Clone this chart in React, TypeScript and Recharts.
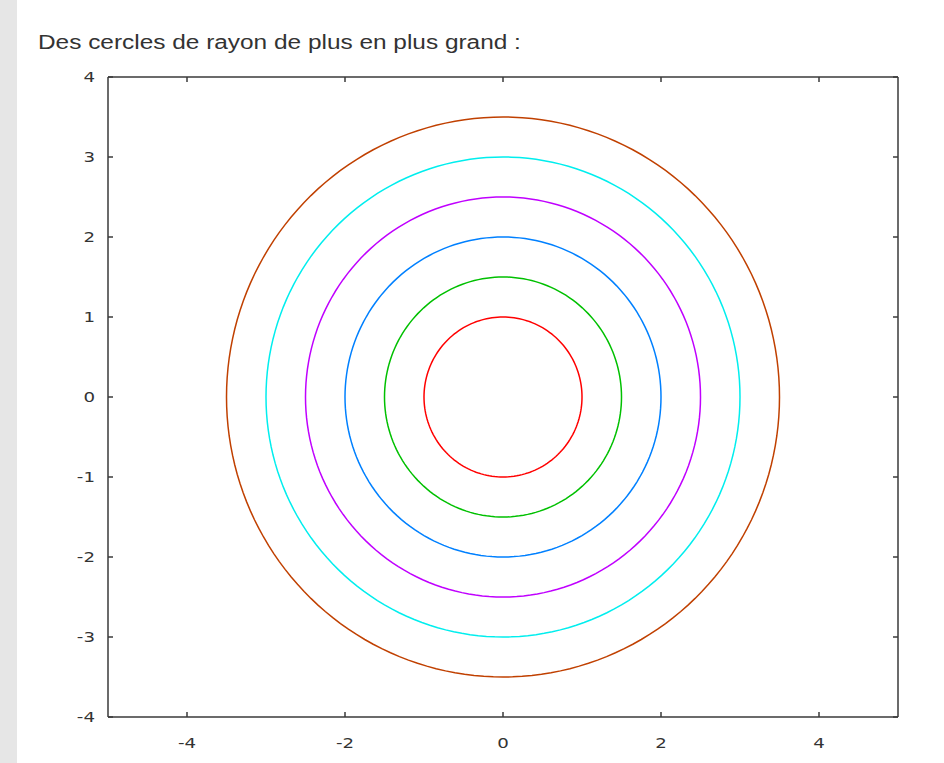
import React from 'react';
import { LineChart, Line, XAxis, YAxis } from 'recharts';

// Rayons des cercles (gnuplot, du plus petit au plus grand)
const radii = [1, 1.5, 2, 2.5, 3, 3.5];
const colors = ['#ff0000', '#00c000', '#0080ff', '#c000ff', '#00eeee', '#c04000'];
const xTicks = [-4, -2, 0, 2, 4];
const yTicks = [-4, -3, -2, -1, 0, 1, 2, 3, 4];
const STEPS = 180;

// each circle is traced as a closed parametric path of its radius
const circles = radii.map((r) =>
  Array.from({ length: STEPS + 1 }, (_, i) => {
    const t = (i / STEPS) * 2 * Math.PI;
    return { x: r * Math.cos(t), y: r * Math.sin(t) };
  })
);

const titleFont = '"Liberation Sans", Arial, sans-serif';
const tickFont = '"DejaVu Sans", sans-serif';
const frame = '#3a3a3a';

const BottomTick = (props: any) => {
  const { x, y, payload } = props;
  return (
    <g>
      <line x1={x} y1={y} x2={x} y2={y - 5} stroke={frame} strokeWidth={1.5} />
      <text
        transform={`translate(${x},${y + 31}) scale(1.3,1)`}
        textAnchor="middle"
        fontSize={14}
        fill="#333"
        fontFamily={tickFont}
      >
        {payload.value}
      </text>
    </g>
  );
};

const TopTick = (props: any) => {
  const { x, y } = props;
  return <line x1={x} y1={y} x2={x} y2={y + 5} stroke={frame} strokeWidth={1.5} />;
};

const LeftTick = (props: any) => {
  const { x, y, payload } = props;
  return (
    <g>
      <line x1={x} y1={y} x2={x + 5} y2={y} stroke={frame} strokeWidth={1.5} />
      <text
        transform={`translate(${x - 13},${y + 5}) scale(1.3,1)`}
        textAnchor="end"
        fontSize={14}
        fill="#333"
        fontFamily={tickFont}
      >
        {payload.value}
      </text>
    </g>
  );
};

const RightTick = (props: any) => {
  const { x, y } = props;
  return <line x1={x} y1={y} x2={x - 5} y2={y} stroke={frame} strokeWidth={1.5} />;
};

export default function App() {
  return (
    <div style={{ position: 'absolute', left: 0, top: 0, width: 944, height: 763, background: '#ffffff', overflow: 'hidden' }}>
      {/* bande grise à gauche */}
      <div style={{ position: 'absolute', left: 0, top: 0, width: 17, height: 763, background: '#e6e6e6' }} />
      <div style={{
        position: 'absolute',
        left: 38,
        top: 31,
        fontFamily: titleFont,
        fontSize: 20,
        color: '#333',
        whiteSpace: 'nowrap',
        transform: 'scaleX(1.22)',
        transformOrigin: 'left top'
      }}>
        Des cercles de rayon de plus en plus grand :
      </div>
      <div style={{ position: 'absolute', left: 0, top: 0 }}>
        <LineChart width={944} height={763} margin={{ top: 76, right: 45, bottom: 16, left: 68 }}>
          <XAxis
            xAxisId="bottom"
            dataKey="x"
            type="number"
            domain={[-5, 5]}
            ticks={xTicks}
            orientation="bottom"
            height={30}
            tickSize={0}
            tickMargin={0}
            tickLine={false}
            axisLine={{ stroke: frame, strokeWidth: 1.5 }}
            tick={<BottomTick />}
            allowDataOverflow
          />
          <XAxis
            xAxisId="top"
            dataKey="x"
            type="number"
            domain={[-5, 5]}
            ticks={xTicks}
            orientation="top"
            height={1}
            tickSize={0}
            tickMargin={0}
            tickLine={false}
            axisLine={{ stroke: frame, strokeWidth: 1.5 }}
            tick={<TopTick />}
            allowDataOverflow
          />
          <YAxis
            yAxisId="left"
            type="number"
            domain={[-4, 4]}
            ticks={yTicks}
            orientation="left"
            width={40}
            tickSize={0}
            tickMargin={0}
            tickLine={false}
            axisLine={{ stroke: frame, strokeWidth: 1.5 }}
            tick={<LeftTick />}
            allowDataOverflow
          />
          <YAxis
            yAxisId="right"
            type="number"
            domain={[-4, 4]}
            ticks={yTicks}
            orientation="right"
            width={1}
            tickSize={0}
            tickMargin={0}
            tickLine={false}
            axisLine={{ stroke: frame, strokeWidth: 1.5 }}
            tick={<RightTick />}
            allowDataOverflow
          />
          {circles.map((pts, i) => (
            <Line
              key={radii[i]}
              xAxisId="bottom"
              yAxisId="left"
              data={pts}
              dataKey="y"
              type="linear"
              stroke={colors[i]}
              strokeWidth={1.5}
              dot={false}
              activeDot={false}
              isAnimationActive={false}
            />
          ))}
        </LineChart>
      </div>
    </div>
  );
}
